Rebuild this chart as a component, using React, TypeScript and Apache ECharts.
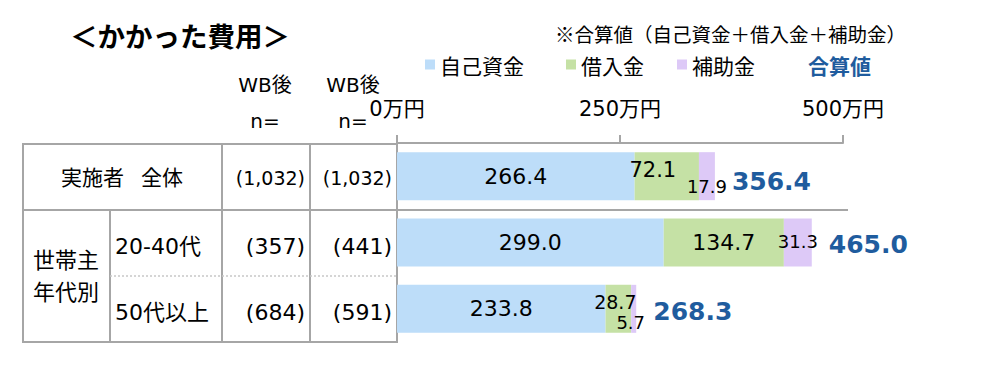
import React, { useEffect, useRef } from 'react';
import * as echarts from 'echarts';

const categories = ['実施者\u2002 全体', '20-40代', '50代以上'];
const selfFunds = [266.4, 299.0, 233.8];
const loans = [72.1, 134.7, 28.7];
const subsidies = [17.9, 31.3, 5.7];
const totals = [356.4, 465.0, 268.3];
const nBefore = ['(1,032)', '(357)', '(684)'];
const nAfter = ['(1,032)', '(441)', '(591)'];
const tickLabels = ['0万円', '250万円', '500万円'];
const seriesNames = ['自己資金', '借入金', '補助金', '合算値'];

const FONT = "'DejaVu Sans', 'Noto Sans CJK JP', sans-serif";
const JP = "'Noto Sans CJK JP', sans-serif";
const LINE = '#A6A6A6';
const C_SELF = '#BDDDF9';
const C_LOAN = '#C5E1A5';
const C_SUB = '#DDC9F7';
const C_TOTAL = '#1F5C9E';

// label styling per row (styles only)
const loanLabelStyle = [
  { offset: [-14, -6], fontSize: 21 },
  { offset: [0, 0], fontSize: 22 },
  { offset: [-3, -7], fontSize: 19 },
];
const subLabelStyle = [
  { offset: [0, 10], fontSize: 18 },
  { offset: [0, -1], fontSize: 18 },
  { offset: [-3, 14], fontSize: 18 },
];
const totalLabelDy = [5, 2, 3];
const rowY = [178, 246, 312];

function txt(text: string, x: number, y: number, size: number, align: string, opts: any = {}) {
  return {
    type: 'text',
    silent: true,
    style: {
      text,
      x,
      y,
      fill: opts.fill || '#000',
      fontSize: size,
      fontFamily: opts.family || FONT,
      fontWeight: opts.weight || 'normal',
      textAlign: align,
      align,
      textVerticalAlign: 'middle',
      verticalAlign: 'middle',
      lineHeight: opts.lineHeight,
    },
  };
}

function ln(x1: number, y1: number, x2: number, y2: number, opts: any = {}) {
  return {
    type: 'line',
    silent: true,
    shape: { x1, y1, x2, y2 },
    style: { stroke: opts.stroke || LINE, lineWidth: opts.lineWidth || 2, lineDash: opts.dash },
  };
}

export default function App() {
  const ref = useRef<HTMLDivElement>(null);
  useEffect(() => {
    if (!ref.current) return;
    const chart = echarts.init(ref.current, undefined, { renderer: 'svg' });

    const graphics: any[] = [
      txt('＜かかった費用＞', 70, 35, 27.5, 'left', { weight: 'bold', family: JP }),
      txt('※合算値（自己資金＋借入金＋補助金）', 555, 33, 19.5, 'left', { family: JP }),
      txt('WB後', 265, 85, 20, 'center'),
      txt('n=', 265, 121, 20, 'center'),
      txt('WB後', 353, 85, 20, 'center'),
      txt('n=', 353, 121, 20, 'center'),
      // table lines
      ln(23, 144, 397, 144),
      ln(23, 143, 23, 343),
      ln(22, 342, 398, 342),
      ln(23, 210, 848, 210),
      ln(110, 210, 110, 342),
      ln(222, 144, 222, 342),
      ln(310, 144, 310, 342),
      ln(110, 276, 397, 276, { stroke: '#C8C8C8', lineWidth: 1.5, dash: [2, 2] }),
      // table texts
      txt(categories[0], 122, rowY[0], 21, 'center'),
      txt('世帯主\n年代別', 66, 276, 22, 'center', { lineHeight: 32 }),
      txt(categories[1], 115, rowY[1], 22, 'left'),
      txt(categories[2], 115, rowY[2], 22, 'left'),
    ];
    for (let i = 0; i < 3; i++) {
      const fs = i === 0 ? 19 : 22;
      graphics.push(txt(nBefore[i], 305, rowY[i], fs, 'right'));
      graphics.push(txt(nAfter[i], 392, rowY[i], fs, 'right'));
    }

    const legendBase = {
      orient: 'horizontal',
      top: 54,
      padding: 0,
      itemWidth: 10,
      itemHeight: 10,
      selectedMode: false,
      textStyle: { fontSize: 21, color: '#000', fontFamily: JP },
    };

    const option: any = {
      animation: false,
      grid: { left: 397, right: 144, top: 143, bottom: 50, containLabel: false },
      legend: [
        { ...legendBase, left: 425, data: [{ name: seriesNames[0], icon: 'rect' }] },
        { ...legendBase, left: 566, data: [{ name: seriesNames[1], icon: 'rect' }] },
        { ...legendBase, left: 677, data: [{ name: seriesNames[2], icon: 'rect' }] },
        {
          ...legendBase,
          left: 798,
          itemWidth: 5,
          data: [{ name: seriesNames[3], icon: 'none', textStyle: { color: C_TOTAL, fontWeight: 'bold', fontSize: 21, fontFamily: JP } }],
        },
      ],
      xAxis: {
        type: 'value',
        position: 'top',
        min: 0,
        max: 500,
        interval: 250,
        splitLine: { show: false },
        axisLine: { show: true, lineStyle: { color: LINE, width: 2 } },
        axisTick: { show: true, length: 8, lineStyle: { color: LINE, width: 2 } },
        axisLabel: {
          margin: 24,
          fontSize: 21,
          color: '#000',
          fontFamily: FONT,
          formatter: (_v: number, idx: number) => tickLabels[idx] ?? '',
        },
      },
      yAxis: {
        type: 'category',
        inverse: true,
        data: categories,
        axisLabel: { show: false },
        axisTick: { show: false },
        axisLine: { show: true, lineStyle: { color: LINE, width: 2 } },
      },
      series: [
        {
          name: seriesNames[0],
          type: 'bar',
          stack: 'total',
          barWidth: 48,
          itemStyle: { color: C_SELF },
          label: { show: true, position: 'inside', color: '#000', fontSize: 22, fontFamily: FONT, formatter: (p: any) => p.value.toFixed(1) },
          data: selfFunds,
        },
        {
          name: seriesNames[1],
          type: 'bar',
          stack: 'total',
          barWidth: 48,
          itemStyle: { color: C_LOAN },
          label: { show: true, position: 'inside', color: '#000', fontSize: 22, fontFamily: FONT, formatter: (p: any) => p.value.toFixed(1) },
          data: loans.map((v, i) => ({ value: v, label: loanLabelStyle[i] })),
        },
        {
          name: seriesNames[2],
          type: 'bar',
          stack: 'total',
          barWidth: 48,
          itemStyle: { color: C_SUB },
          label: { show: true, position: 'inside', color: '#000', fontSize: 18, fontFamily: FONT, formatter: (p: any) => p.value.toFixed(1) },
          data: subsidies.map((v, i) => ({ value: v, label: subLabelStyle[i] })),
        },
        {
          name: seriesNames[3],
          type: 'scatter',
          symbolSize: 0,
          itemStyle: { color: C_TOTAL, opacity: 1 },
          label: {
            show: true,
            position: 'right',
            distance: 17,
            color: C_TOTAL,
            opacity: 1,
            fontWeight: 'bold',
            fontSize: 25,
            fontFamily: FONT,
            formatter: (p: any) => p.value[0].toFixed(1),
          },
          data: totals.map((v, i) => ({ value: [v, i], label: { offset: [0, totalLabelDy[i]] } })),
        },
      ],
      graphic: graphics,
    };
    chart.setOption(option);
    return () => chart.dispose();
  }, []);
  return (
    <div
      ref={ref}
      style={{ position: 'fixed', left: 0, top: 0, width: 987, height: 392, background: '#fff' }}
    />
  );
}
